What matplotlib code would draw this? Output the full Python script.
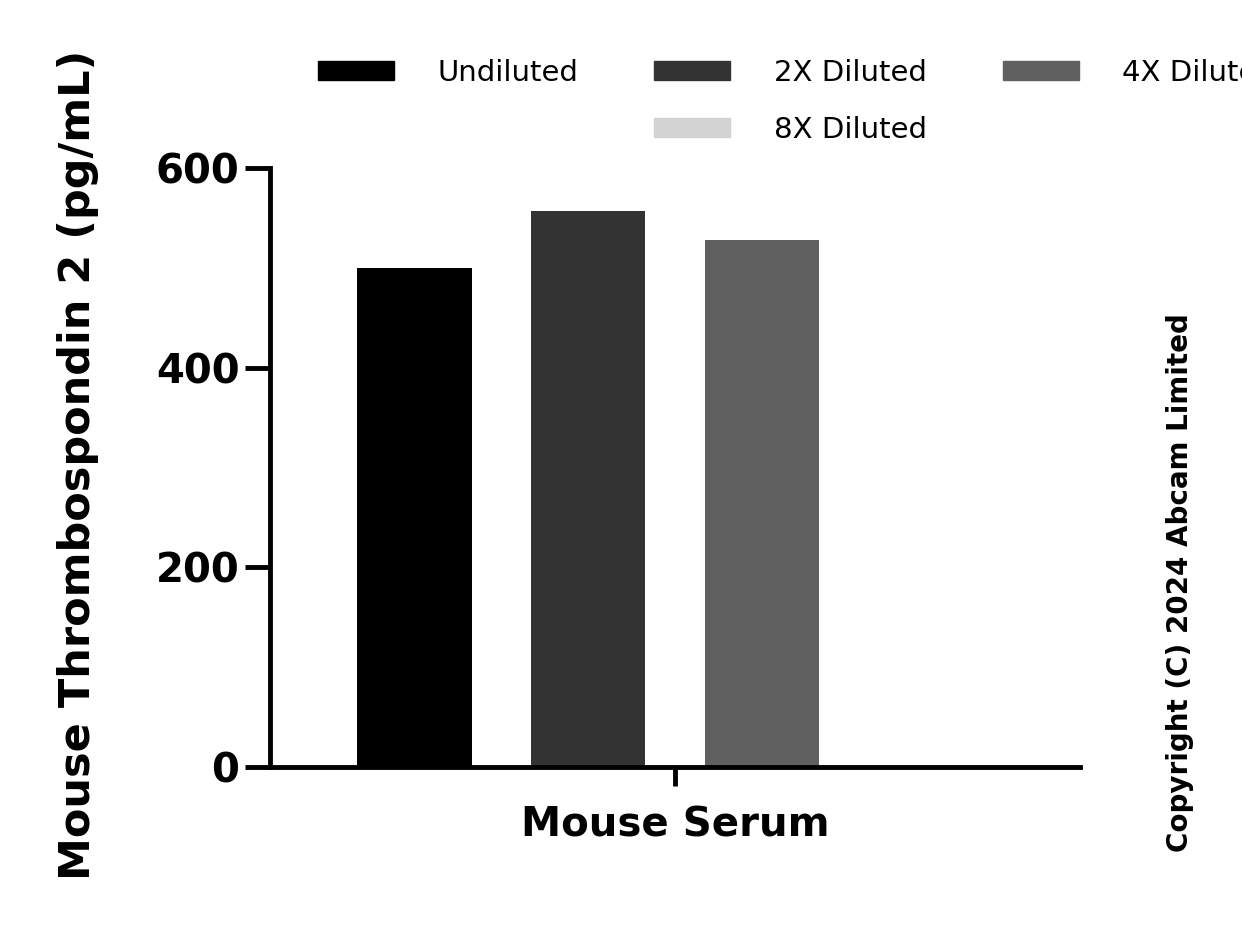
import matplotlib
matplotlib.use("Agg")
import matplotlib.pyplot as plt
from matplotlib.patches import Patch

series = ["Undiluted", "2X Diluted", "4X Diluted", "8X Diluted"]
values = [500, 557, 528, 0]
colors = ["#000000", "#333333", "#606060", "#d3d3d3"]
group = "Mouse Serum"

fig = plt.figure(figsize=(12.42, 9.3), dpi=100)
ax = fig.add_axes([0.2174, 0.1753, 0.6522, 0.6441])

offsets = [-1.5, -0.5, 0.5, 1.5]
for off, v, c in zip(offsets, values, colors):
    ax.bar(off, v, width=0.66, color=c)

ax.set_xlim(-2.33, 2.33)
ax.set_ylim(0, 600)
ax.set_yticks([0, 200, 400, 600])
ax.set_xticks([0])
ax.set_xticklabels([group], fontsize=29, fontweight="bold")
for s in ["top", "right"]:
    ax.spines[s].set_visible(False)
for s in ["left", "bottom"]:
    ax.spines[s].set_linewidth(3.5)
ax.tick_params(axis="y", width=3.5, length=18, labelsize=29, pad=4)
ax.tick_params(axis="x", width=3.5, length=14, pad=14)
for t in ax.get_yticklabels():
    t.set_fontweight("bold")
fig.text(0.063, 0.5, "Mouse Thrombospondin 2 (pg/mL)", rotation=90,
         fontsize=31, fontweight="bold", ha="center", va="center")

# row-major legend layout with blank fillers
blank = Patch(color="none")
h = [Patch(color=c) for c in colors]
handles = [h[0], blank, h[1], h[3], h[2], blank]
labels = [series[0], "", series[1], series[3], series[2], ""]
fig.legend(handles, labels, ncol=3, loc="upper left",
           bbox_to_anchor=(0.235, 0.965), frameon=False,
           fontsize=21, handlelength=2.6, handleheight=0.6, columnspacing=2.6,
           handletextpad=1.5, labelspacing=1.0)

fig.text(0.95, 0.374, "Copyright (C) 2024 Abcam Limited", rotation=90,
         fontsize=20, fontweight="bold", ha="center", va="center")

fig.savefig("out.png", dpi=100)
